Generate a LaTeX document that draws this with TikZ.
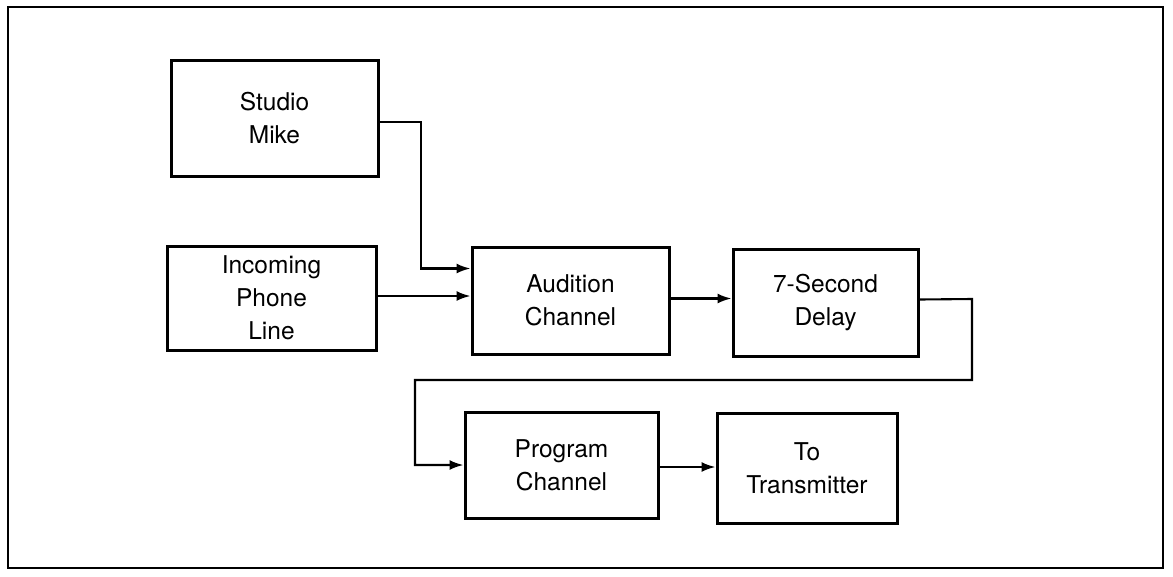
\documentclass[tikz,border=0pt]{standalone}
\usepackage{fontspec}
\setmainfont{TeX Gyre Heros}
\usetikzlibrary{arrows.meta}
\begin{document}
\begin{tikzpicture}[x=1pt,y=-1pt,
  blk/.style={draw,line width=3pt,rectangle,align=center,inner sep=0pt,
    font=\fontsize{24.5}{33}\selectfont},
  wire/.style={line width=2.1pt,-{Latex[length=14pt,width=10pt]}}]
\useasboundingbox (0,0) rectangle (1173,576);
\draw[line width=2.6pt] (8,7) rectangle (1163,568);
\node[blk,minimum width=207pt,minimum height=116pt] (sm) at (274.5,118) {Studio\\Mike};
\node[blk,minimum width=209pt,minimum height=104pt] (ip) at (271.5,298) {Incoming\\Phone\\Line};
\node[blk,minimum width=197pt,minimum height=107pt] (au) at (570.5,300.5) {Audition\\Channel};
\node[blk,minimum width=185pt,minimum height=107pt] (dl) at (825.5,302.5) {7-Second\\Delay};
\node[blk,minimum width=193pt,minimum height=106pt] (pc) at (561.5,465) {Program\\Channel};
\node[blk,minimum width=180pt,minimum height=110pt] (tx) at (807,468) {To\\Transmitter};
\coordinate (c1) at (421,122);
\coordinate (c2) at (972,299);
\coordinate (c3) at (415,380);
\draw[wire] ([yshift=-4pt]sm.east) -- (c1) |- ([yshift=32pt]au.west);
\draw[wire] ([yshift=2pt]ip.east) -- ([yshift=2pt]ip.east -| au.west);
\draw[wire] ([yshift=2pt]au.east) -- ([yshift=2pt]au.east -| dl.west);
\draw[wire] ([yshift=3pt]dl.east) -- (c2) |- (c3) |- (pc.west);
\draw[wire] ([yshift=-2pt]pc.east) -- ([yshift=-2pt]pc.east -| tx.west);
\end{tikzpicture}
\end{document}
